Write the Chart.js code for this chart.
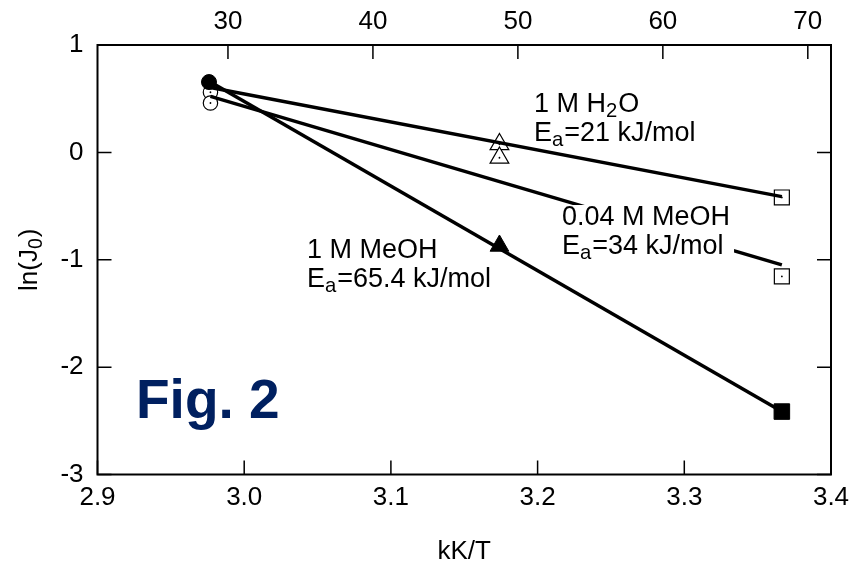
<!DOCTYPE html>
<html>
<head>
<meta charset="utf-8">
<script src="https://cdn.jsdelivr.net/npm/chart.js@4.4.1/dist/chart.umd.min.js"></script>
<style>
  html, body { margin: 0; padding: 0; background: #fff; }
  #wrap { width: 852px; height: 565px; }
</style>
</head>
<body>
<div id="wrap"><canvas id="c" width="852" height="565"></canvas></div>
<script>
// Arrhenius plot of exchange current: ln(J0) against kK/T
const FONT = '"Liberation Sans", Arial, Helvetica, sans-serif';

// tick labels
const xTicks = [2.9, 3.0, 3.1, 3.2, 3.3, 3.4];
const topTicks = [30, 40, 50, 60, 70];
const yTicks = [1, 0, -1, -2, -3];

// fitted Arrhenius lines (start / end)
const fitX = [2.977, 3.3665];
const fitH2O = [0.605, -0.412];
const fitMeOH004 = [0.522, -1.048];
const fitMeOH1 = [0.655, -2.414];

// measured points
const openCircleX = [2.977, 2.977];
const openCircleY = [0.56, 0.46];
const filledCircleX = [2.976];
const filledCircleY = [0.655];
const openTriX = [3.174, 3.174];
const openTriY = [0.075, -0.05];
const filledTriX = [3.174];
const filledTriY = [-0.87];
const openSqX = [3.3665, 3.3665];
const openSqY = [-0.42, -1.155];
const filledSqX = [3.3665];
const filledSqY = [-2.414];

const pts = (xs, ys) => xs.map((x, i) => ({ x, y: ys[i] }));

function fitSet(ys) {
  return {
    data: pts(fitX, ys), showLine: true, borderColor: '#000', borderWidth: 3.5,
    pointRadius: 0, fill: false, order: 1
  };
}
function markerSet(xs, ys, style, r, filled, order) {
  return {
    data: pts(xs, ys), showLine: false, pointStyle: style, pointRadius: r,
    pointBackgroundColor: filled ? '#000' : '#fff', pointBorderColor: '#000',
    pointBorderWidth: filled ? 1 : 1.2, order
  };
}
function dotSet(xs, ys) {
  return {
    data: pts(xs, ys), showLine: false, pointStyle: 'circle', pointRadius: 0.9,
    pointBackgroundColor: '#000', pointBorderWidth: 0, order: 2
  };
}

// text with single-character subscripts written as _x
function rich(ctx, x, y, text, size, measureOnly) {
  const parts = [];
  for (let i = 0; i < text.length; i++) {
    if (text[i] === '_') { parts.push({ t: text[i + 1], sub: true }); i++; }
    else if (parts.length && !parts[parts.length - 1].sub) parts[parts.length - 1].t += text[i];
    else parts.push({ t: text[i], sub: false });
  }
  let cx = x;
  for (const p of parts) {
    const fs = p.sub ? size * 0.75 : size;
    ctx.font = fs + 'px ' + FONT;
    if (!measureOnly) ctx.fillText(p.t, cx, y + (p.sub ? size * 0.2 : 0));
    cx += ctx.measureText(p.t).width + (p.sub ? 1 : 0);
  }
  return cx - x;
}

const frame = {
  id: 'frame',
  beforeDatasetsDraw(chart) {
    const { ctx, chartArea: a, scales } = chart;
    ctx.save();
    ctx.strokeStyle = '#000';
    ctx.lineWidth = 1.5;
    const TL = 14;
    ctx.beginPath();
    xTicks.forEach(v => {
      const px = scales.x.getPixelForValue(v);
      ctx.moveTo(px, a.bottom); ctx.lineTo(px, a.bottom - TL);
    });
    topTicks.forEach(v => {
      const px = scales.x2.getPixelForValue(v);
      ctx.moveTo(px, a.top); ctx.lineTo(px, a.top + TL);
    });
    yTicks.forEach(v => {
      const py = scales.y.getPixelForValue(v);
      ctx.moveTo(a.left, py); ctx.lineTo(a.left + TL, py);
      ctx.moveTo(a.right, py); ctx.lineTo(a.right - TL, py);
    });
    ctx.stroke();
    ctx.lineWidth = 2;
    ctx.strokeRect(a.left, a.top, a.right - a.left, a.bottom - a.top);
    ctx.restore();
  },
  afterDatasetsDraw(chart) {
    const { ctx, chartArea: a } = chart;
    const S = 27;
    ctx.save();
    ctx.fillStyle = '#000';
    ctx.textBaseline = 'alphabetic';
    ctx.textAlign = 'left';

    // 1 M H2O
    rich(ctx, 534, 112, '1 M H_2O', S);
    rich(ctx, 534, 141, 'E_a=21 kJ/mol', S);

    // 0.04 M MeOH, on a white box that interrupts its fit line
    const w1 = rich(ctx, 0, 0, '0.04 M MeOH', S, true);
    const w2 = rich(ctx, 0, 0, 'E_a=34 kJ/mol', S, true);
    ctx.fillStyle = '#fff';
    ctx.fillRect(560, 205, Math.max(w1, w2) + 6, 58);
    ctx.fillStyle = '#000';
    rich(ctx, 562, 225, '0.04 M MeOH', S);
    rich(ctx, 562, 254, 'E_a=34 kJ/mol', S);

    // 1 M MeOH
    rich(ctx, 307, 258, '1 M MeOH', S);
    rich(ctx, 307, 287, 'E_a=65.4 kJ/mol', S);

    // figure tag
    ctx.fillStyle = '#002060';
    ctx.font = 'bold 55px ' + FONT;
    ctx.fillText('Fig. 2', 136, 418);

    // axis titles
    ctx.fillStyle = '#000';
    ctx.textAlign = 'center';
    ctx.font = '26px ' + FONT;
    ctx.fillText('kK/T', (a.left + a.right) / 2, 559);

    ctx.textAlign = 'left';
    const tw = rich(ctx, 0, 0, 'ln(J_0)', 26, true);
    ctx.translate(37, (a.top + a.bottom) / 2);
    ctx.rotate(-Math.PI / 2);
    rich(ctx, -tw / 2, 0, 'ln(J_0)', 26);
    ctx.restore();
  }
};

const tickFont = { family: FONT, size: 26 };
const noSidePad = s => { s.paddingLeft = 0; s.paddingRight = 0; };

new Chart(document.getElementById('c'), {
  type: 'scatter',
  data: {
    datasets: [
      fitSet(fitH2O),
      fitSet(fitMeOH004),
      fitSet(fitMeOH1),
      markerSet(openCircleX, openCircleY, 'circle', 7.2, false, 3),
      markerSet(openTriX, openTriY, 'triangle', 10.8, false, 3),
      markerSet(openSqX, openSqY, 'rect', 10.6, false, 3),
      dotSet(openCircleX, openCircleY),
      dotSet(openTriX, openTriY),
      dotSet(openSqX, openSqY),
      markerSet(filledCircleX, filledCircleY, 'circle', 7.5, true, 0),
      markerSet(filledTriX, filledTriY, 'triangle', 10.8, true, 0),
      markerSet(filledSqX, filledSqY, 'rect', 11, true, 0)
    ]
  },
  options: {
    responsive: false,
    devicePixelRatio: 1,
    animation: false,
    events: [],
    layout: { padding: { left: 0, right: 21, top: 0, bottom: 0 } },
    plugins: { legend: { display: false }, tooltip: { enabled: false } },
    scales: {
      x: {
        type: 'linear', position: 'bottom', min: 2.9, max: 3.4,
        afterBuildTicks: s => { s.ticks = xTicks.map(v => ({ value: v })); },
        afterFit: s => { s.height = 90.5; noSidePad(s); },
        ticks: { font: tickFont, color: '#000', padding: 8, maxRotation: 0,
                 callback: v => v.toFixed(1) },
        grid: { display: false, drawTicks: false },
        border: { display: false }
      },
      x2: {
        type: 'linear', position: 'top', min: 21, max: 71.6,
        afterBuildTicks: s => { s.ticks = topTicks.map(v => ({ value: v })); },
        afterFit: s => { s.height = 45; noSidePad(s); },
        ticks: { font: tickFont, color: '#000', padding: 8, maxRotation: 0 },
        grid: { display: false, drawTicks: false },
        border: { display: false }
      },
      y: {
        type: 'linear', position: 'left', min: -3, max: 1,
        afterBuildTicks: s => { s.ticks = yTicks.map(v => ({ value: v })); },
        afterFit: s => { s.width = 97.5; s.paddingTop = 0; s.paddingBottom = 0; },
        ticks: { font: tickFont, color: '#000', padding: 14 },
        grid: { display: false, drawTicks: false },
        border: { display: false }
      }
    }
  },
  plugins: [frame]
});
</script>
</body>
</html>
